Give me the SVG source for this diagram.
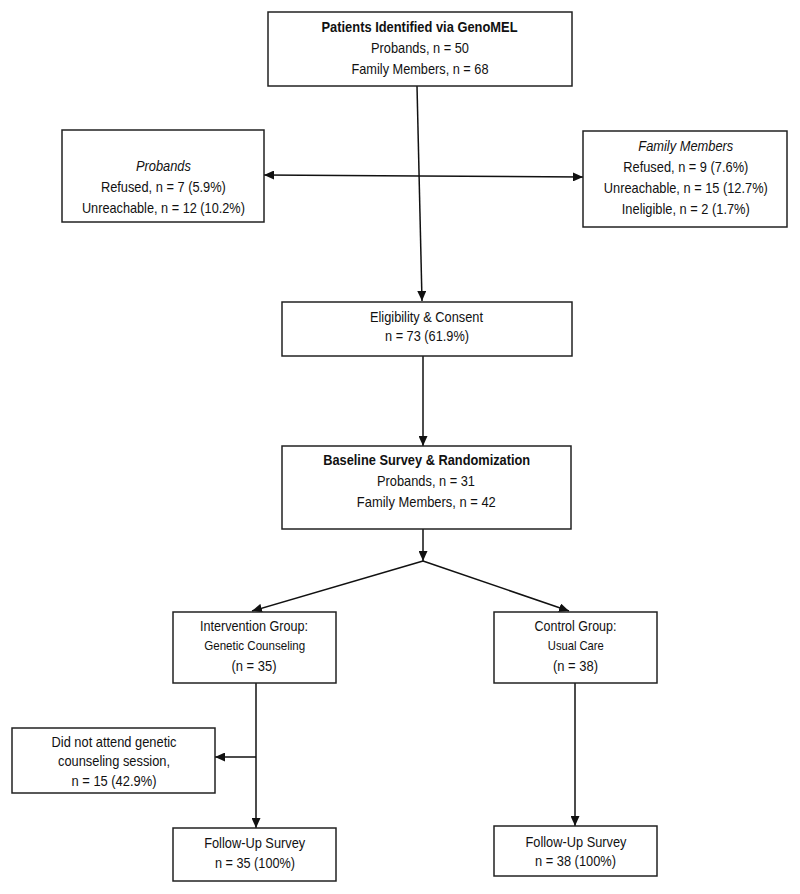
<svg xmlns="http://www.w3.org/2000/svg" width="800" height="894" viewBox="0 0 800 894">
<defs>
<marker id="ah" markerUnits="userSpaceOnUse" markerWidth="11" markerHeight="9" refX="10" refY="4.5" orient="auto">
<path d="M0,0 L10,4.5 L0,9 z" fill="#111"/>
</marker>
<style>
.box{fill:#fff;stroke:#222;stroke-width:1.5}
text{font-family:"Liberation Sans",Arial,sans-serif;font-size:15px;fill:#111;text-anchor:middle}
.b{font-weight:bold}
.i{font-style:italic}
.s{font-size:13px}
.c{stroke:#111;stroke-width:1.5;fill:none;marker-end:url(#ah)}
</style>
</defs>
<rect width="800" height="894" fill="#fff"/>
<g id="connectors">
<line class="c" x1="417" y1="86" x2="422" y2="301"/>
<line class="c" x1="419" y1="176" x2="264" y2="175"/>
<line class="c" x1="419" y1="176" x2="583" y2="177"/>
<line class="c" x1="423" y1="356" x2="423" y2="446"/>
<line class="c" x1="423" y1="529" x2="423" y2="561"/>
<line class="c" x1="423" y1="561" x2="252" y2="611"/>
<line class="c" x1="423" y1="561" x2="569" y2="611"/>
<line class="c" x1="256" y1="683" x2="256" y2="828"/>
<line class="c" x1="256" y1="757" x2="215" y2="757"/>
<line class="c" x1="575" y1="683" x2="575" y2="826"/>
</g>
<g id="identified">
<rect class="box" x="268" y="12" width="304" height="74"/>
<text class="b" x="419.5" y="32" textLength="196" lengthAdjust="spacingAndGlyphs">Patients Identified via GenoMEL</text>
<text x="420" y="53" textLength="98" lengthAdjust="spacingAndGlyphs">Probands, n = 50</text>
<text x="420" y="74" textLength="137" lengthAdjust="spacingAndGlyphs">Family Members, n = 68</text>
</g>
<g id="probands">
<rect class="box" x="62" y="130" width="202" height="92"/>
<text class="i" x="163.4" y="171" textLength="55" lengthAdjust="spacingAndGlyphs">Probands</text>
<text x="163.4" y="192" textLength="125" lengthAdjust="spacingAndGlyphs">Refused, n = 7 (5.9%)</text>
<text x="163.4" y="213" textLength="163" lengthAdjust="spacingAndGlyphs">Unreachable, n = 12 (10.2%)</text>
</g>
<g id="family">
<rect class="box" x="583" y="131" width="204" height="96"/>
<text class="i" x="685.8" y="151" textLength="95" lengthAdjust="spacingAndGlyphs">Family Members</text>
<text x="685.8" y="172" textLength="125" lengthAdjust="spacingAndGlyphs">Refused, n = 9 (7.6%)</text>
<text x="685.8" y="193" textLength="164" lengthAdjust="spacingAndGlyphs">Unreachable, n = 15 (12.7%)</text>
<text x="685.8" y="214" textLength="128" lengthAdjust="spacingAndGlyphs">Ineligible, n = 2 (1.7%)</text>
</g>
<g id="eligibility">
<rect class="box" x="282" y="302" width="290" height="54"/>
<text x="426.5" y="321.5" textLength="113" lengthAdjust="spacingAndGlyphs">Eligibility &amp; Consent</text>
<text x="427" y="340.5" textLength="84" lengthAdjust="spacingAndGlyphs">n = 73 (61.9%)</text>
</g>
<g id="baseline">
<rect class="box" x="282" y="446" width="289" height="83"/>
<text class="b" x="426.7" y="465" textLength="207" lengthAdjust="spacingAndGlyphs">Baseline Survey &amp; Randomization</text>
<text x="426" y="486" textLength="98" lengthAdjust="spacingAndGlyphs">Probands, n = 31</text>
<text x="426.3" y="507" textLength="139" lengthAdjust="spacingAndGlyphs">Family Members, n = 42</text>
</g>
<g id="intervention">
<rect class="box" x="173" y="612" width="163" height="71"/>
<text x="254" y="631" textLength="108" lengthAdjust="spacingAndGlyphs">Intervention Group:</text>
<text class="s" x="254.7" y="650" textLength="101" lengthAdjust="spacingAndGlyphs">Genetic Counseling</text>
<text x="254" y="671" textLength="45" lengthAdjust="spacingAndGlyphs">(n = 35)</text>
</g>
<g id="control">
<rect class="box" x="494" y="612" width="163" height="71"/>
<text x="575.5" y="631" textLength="82" lengthAdjust="spacingAndGlyphs">Control Group:</text>
<text class="s" x="575.8" y="650" textLength="56" lengthAdjust="spacingAndGlyphs">Usual Care</text>
<text x="575.5" y="671" textLength="45" lengthAdjust="spacingAndGlyphs">(n = 38)</text>
</g>
<g id="did-not-attend">
<rect class="box" x="12" y="728" width="203" height="65"/>
<text x="114" y="746.5" textLength="125" lengthAdjust="spacingAndGlyphs">Did not attend genetic</text>
<text x="114" y="766" textLength="112" lengthAdjust="spacingAndGlyphs">counseling session,</text>
<text x="114" y="786" textLength="85" lengthAdjust="spacingAndGlyphs">n = 15 (42.9%)</text>
</g>
<g id="followup-intervention">
<rect class="box" x="173" y="828" width="163" height="53"/>
<text x="254.7" y="848" textLength="101" lengthAdjust="spacingAndGlyphs">Follow-Up Survey</text>
<text x="255" y="867.5" textLength="80" lengthAdjust="spacingAndGlyphs">n = 35 (100%)</text>
</g>
<g id="followup-control">
<rect class="box" x="494" y="826" width="163" height="50"/>
<text x="576" y="846.5" textLength="101" lengthAdjust="spacingAndGlyphs">Follow-Up Survey</text>
<text x="575.5" y="866" textLength="81" lengthAdjust="spacingAndGlyphs">n = 38 (100%)</text>
</g>
</svg>
